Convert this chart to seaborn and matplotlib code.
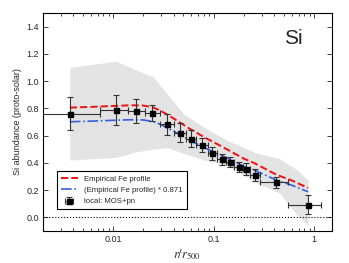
import numpy as np
import pandas as pd
import seaborn as sns
import matplotlib
matplotlib.use('Agg')
import matplotlib.pyplot as plt

# data points (local: MOS+pn)
r_pts = [0.00373, 0.0106, 0.0168, 0.0246, 0.0347, 0.0465, 0.0593, 0.0764,
         0.0973, 0.121, 0.145, 0.177, 0.212, 0.259, 0.416, 0.871]
si_pts = [0.761, 0.790, 0.780, 0.766, 0.681, 0.622, 0.578, 0.530,
          0.469, 0.425, 0.405, 0.369, 0.357, 0.310, 0.257, 0.093]
si_err = [0.12, 0.11, 0.09, 0.06, 0.08, 0.07, 0.065, 0.05,
          0.045, 0.04, 0.035, 0.04, 0.045, 0.045, 0.04, 0.07]
r_lo = [0.001, 0.0074, 0.0139, 0.0205, 0.029, 0.040, 0.053, 0.067,
        0.087, 0.108, 0.133, 0.160, 0.195, 0.230, 0.29, 0.55]
r_hi = [0.0074, 0.0139, 0.0205, 0.029, 0.040, 0.053, 0.067, 0.087,
        0.108, 0.133, 0.160, 0.195, 0.230, 0.29, 0.55, 1.18]

# empirical Fe profile
fe_r = [0.0037, 0.006, 0.01, 0.015, 0.02, 0.025, 0.03, 0.04, 0.057, 0.084,
        0.12, 0.2, 0.25, 0.42, 0.6, 0.87]
fe_val = [0.805, 0.81, 0.817, 0.822, 0.82, 0.806, 0.78, 0.725, 0.652, 0.58,
          0.52, 0.43, 0.40, 0.313, 0.27, 0.215]
scale = 0.871

# grey scatter band
band_r = [0.0037, 0.0107, 0.017, 0.025, 0.035, 0.05, 0.08, 0.14, 0.27, 0.45, 0.67, 0.87]
band_hi = [1.10, 1.145, 1.08, 1.03, 0.90, 0.76, 0.66, 0.56, 0.47, 0.43, 0.35, 0.27]
band_lo = [0.42, 0.44, 0.48, 0.50, 0.51, 0.47, 0.42, 0.38, 0.25, 0.18, 0.02, -0.06]

sns.set_style('ticks')
plt.rcParams['font.family'] = ['Liberation Sans', 'DejaVu Sans']
plt.rcParams['mathtext.fontset'] = 'stix'

fig = plt.figure(figsize=(3.49, 2.63), dpi=100)
ax = fig.add_axes([0.123, 0.122, 0.828, 0.829])

ax.fill_between(band_r, band_lo, band_hi, color='#e3e3e3', lw=0, zorder=0)
ax.axhline(0, color='black', ls=':', lw=0.8, zorder=1)

fe = pd.DataFrame({'r': fe_r, 'fe': fe_val})
fe['scaled'] = fe['fe'] * scale
sns.lineplot(data=fe, x='r', y='fe', ax=ax, color='#f01010', ls='--', lw=1.4,
             label='Empirical Fe profile', zorder=2)
sns.lineplot(data=fe, x='r', y='scaled', ax=ax, color='#3060e0', ls='-.', lw=1.2,
             label='(Empirical Fe profile) * 0.871', zorder=2)

xerr = [np.array(r_pts) - np.array(r_lo), np.array(r_hi) - np.array(r_pts)]
ax.errorbar(r_pts, si_pts, yerr=si_err, xerr=xerr, fmt='s', color='black',
            ms=3.6, ecolor='#333333', elinewidth=0.8, capsize=2, capthick=0.8,
            label='local: MOS+pn', zorder=3)

ax.set_xscale('log')
ax.set_xlim(0.002, 1.5)
ax.set_ylim(-0.1, 1.5)
ax.set_yticks([0.0, 0.2, 0.4, 0.6, 0.8, 1.0, 1.2, 1.4])
ax.set_xticks([0.01, 0.1, 1])
ax.set_xticklabels(['0.01', '0.1', '1'])
ax.tick_params(which='both', direction='in', top=True, right=True,
               labelsize=6.5, width=0.6, pad=3)
ax.tick_params(which='major', length=3.5)
ax.tick_params(which='minor', length=2)
for s in ax.spines.values():
    s.set_linewidth(0.8)
    s.set_color('black')

ax.set_xlabel('$r/r_{500}$', fontsize=9, labelpad=2)
ax.set_ylabel('Si abundance (proto-solar)', fontsize=6.5, labelpad=3)
ax.text(0.835, 0.925, 'Si', transform=ax.transAxes, fontsize=15,
        ha='left', va='top')

handles, labels = ax.get_legend_handles_labels()
leg = ax.legend(handles, labels, loc='lower left', bbox_to_anchor=(0.048, 0.10),
                borderaxespad=0, fontsize=5.6, fancybox=False, framealpha=1,
                edgecolor='black', handlelength=2.2, borderpad=0.5,
                labelspacing=0.5)
leg.get_frame().set_linewidth(0.8)

fig.savefig('out.png', dpi=100)
